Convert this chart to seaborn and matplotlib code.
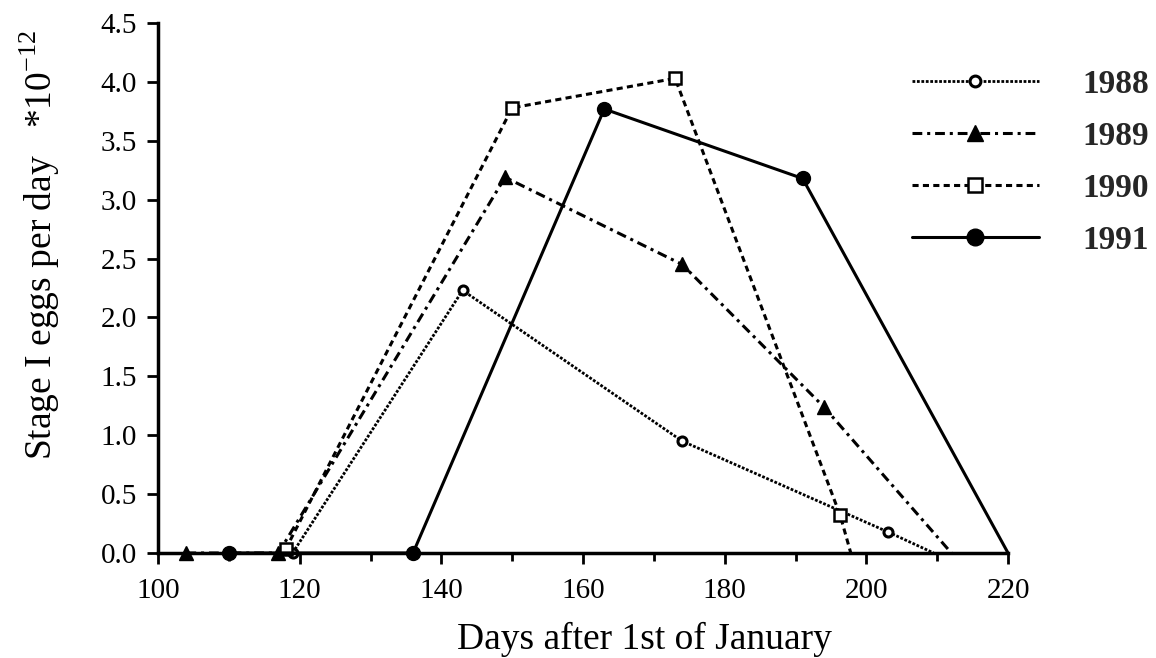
import matplotlib
matplotlib.use("Agg")
import matplotlib.pyplot as plt
from matplotlib.ticker import MultipleLocator, FormatStrFormatter
import seaborn as sns
import pandas as pd

years = ["1988", "1989", "1990", "1991"]
days_1988 = [119, 143, 174, 203, 209.5]
eggs_1988 = [0.0, 2.23, 0.95, 0.18, 0.0]
days_1989 = [104, 117, 149, 174, 194, 212]
eggs_1989 = [0.0, 0.0, 3.19, 2.45, 1.24, 0.0]
days_1990 = [118, 150, 173, 196.3, 197.8]
eggs_1990 = [0.03, 3.78, 4.03, 0.32, 0.0]
days_1991 = [110, 136, 163, 191, 220]
eggs_1991 = [0.0, 0.0, 3.77, 3.18, 0.0]

sns.set_theme(style="white")
plt.rcParams['font.family'] = ['Liberation Serif', 'DejaVu Serif']
plt.rcParams['mathtext.fontset'] = 'custom'
plt.rcParams['mathtext.rm'] = 'Liberation Serif'

fig = plt.figure(figsize=(11.56, 6.58), dpi=100)
ax = fig.add_axes([0.1367, 0.1596, 0.872 - 0.1367, 0.965 - 0.1596])

styles = {
    "1988": dict(linestyle=(0, (1, 0.6)), marker="o", ms=6.5, mfc="white", mew=2.2, lw=2.0),
    "1989": dict(linestyle=(0, (3.2, 1.6, 1.0, 1.6)), marker="^", ms=10, mfc="black", mew=1.0, lw=2.2),
    "1990": dict(linestyle=(0, (2.0, 1.4)), marker="s", ms=8.5, mfc="white", mew=1.8, lw=2.2),
    "1991": dict(linestyle="-", marker="o", ms=10, mfc="black", mew=1.0, lw=2.2),
}
series = {
    "1988": (days_1988, eggs_1988),
    "1989": (days_1989, eggs_1989),
    "1990": (days_1990, eggs_1990),
    "1991": (days_1991, eggs_1991),
}

for yr in years:
    d, e = series[yr]
    df = pd.DataFrame({"day": d, "eggs": e})
    st = styles[yr]
    sns.lineplot(data=df, x="day", y="eggs", ax=ax, sort=False, color="black",
                 linestyle=st["linestyle"], lw=st["lw"], marker=st["marker"],
                 markersize=st["ms"], markerfacecolor=st["mfc"],
                 markeredgecolor="black", markeredgewidth=st["mew"],
                 markevery=list(range(len(d) - 1)), label=yr, clip_on=False)
    ax.lines[-1].set_linestyle(st["linestyle"])

ax.set_xlim(100, 220)
ax.set_ylim(0, 4.5)
ax.xaxis.set_major_locator(MultipleLocator(20))
ax.xaxis.set_minor_locator(MultipleLocator(10))
ax.yaxis.set_major_locator(MultipleLocator(0.5))
ax.yaxis.set_major_formatter(FormatStrFormatter("%.1f"))
for s in ["top", "right"]:
    ax.spines[s].set_visible(False)
for s in ["left", "bottom"]:
    ax.spines[s].set_color("black")
    ax.spines[s].set_linewidth(2.5)
ax.tick_params(axis="both", which="major", direction="out", length=8, width=2,
               color="black", labelsize=21, labelcolor="black")
ax.tick_params(axis="x", which="major", pad=10, bottom=True)
ax.tick_params(axis="y", which="major", pad=7, left=True)
ax.tick_params(axis="x", which="minor", direction="out", length=6, width=2,
               color="black", bottom=True)

ax.set_xlabel("Days after 1st of January", fontsize=27, color="black")
ax.xaxis.set_label_coords((644 - 158) / 850, -0.13)
ax.set_ylabel(r"Stage I eggs per day   *10$^{\mathregular{-12}}$", fontsize=27,
              color="black")
ax.yaxis.set_label_coords(-0.113, 0.581)

leg = ax.legend(loc="upper left", bbox_to_anchor=(0.789, 0.895), bbox_transform=fig.transFigure,
                frameon=False, handlelength=3.8, handletextpad=1.3, labelspacing=0.63,
                borderpad=0, borderaxespad=0, markerscale=1.2,
                prop={"family": "Liberation Serif", "weight": "bold", "size": 24})

fig.savefig("out.png", dpi=100)
